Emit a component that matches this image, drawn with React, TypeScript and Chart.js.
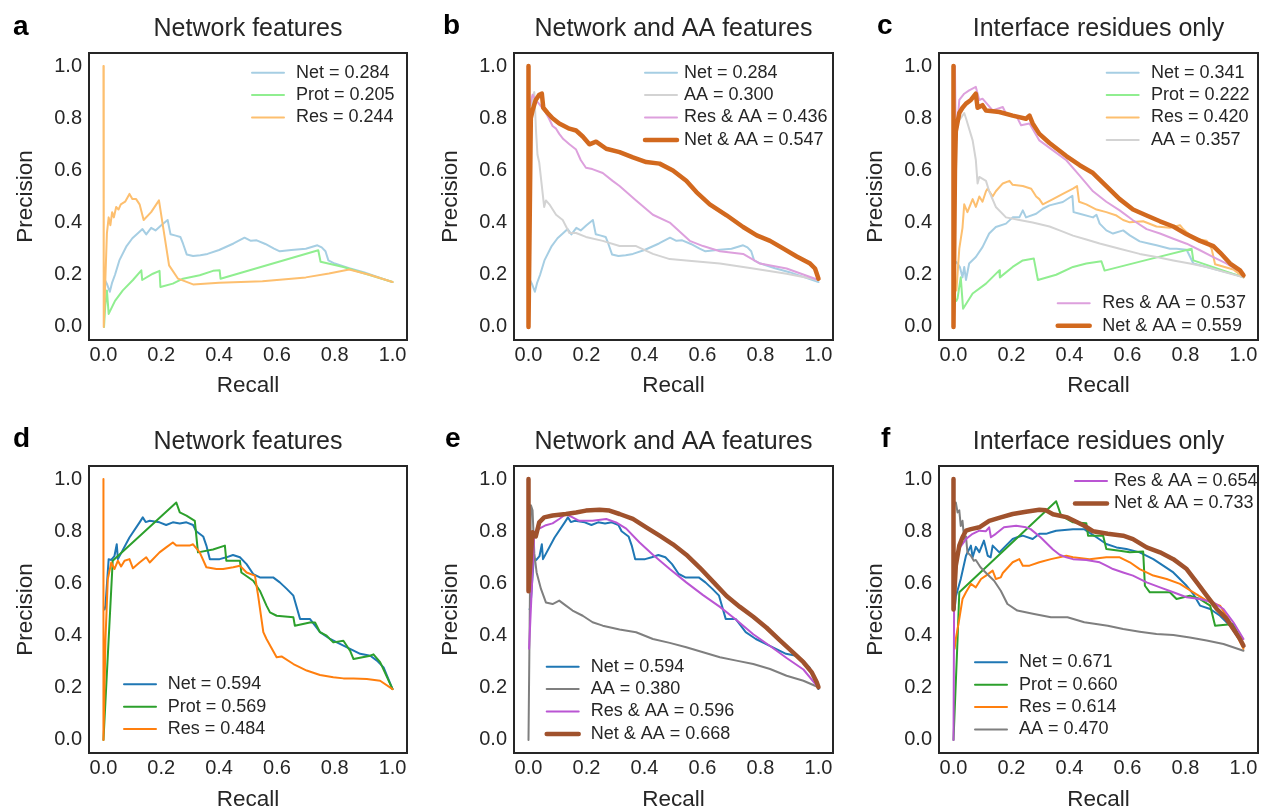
import React, { useEffect, useRef } from 'react';
import { Chart, registerables } from 'chart.js';
Chart.register(...registerables);

const FONT = "'Liberation Sans', Arial, Helvetica, sans-serif";
const TEXT = '#262626';

// ---------- axes ----------
const tickValues = [0, 0.2, 0.4, 0.6, 0.8, 1.0];
const axisMin = -0.05;
const axisMax = 1.05;

// ---------- data (recall, precision) ----------
const netLight = [[0.005,0.18],[0.012,0.165],[0.022,0.135],[0.03,0.17],[0.04,0.2],[0.055,0.255],[0.08,0.31],[0.1,0.34],[0.12,0.36],[0.135,0.375],[0.148,0.355],[0.165,0.38],[0.18,0.37],[0.2,0.39],[0.222,0.41],[0.232,0.355],[0.25,0.35],[0.266,0.345],[0.275,0.32],[0.288,0.278],[0.31,0.272],[0.335,0.275],[0.36,0.28],[0.4,0.295],[0.45,0.32],[0.488,0.342],[0.51,0.33],[0.53,0.332],[0.56,0.318],[0.59,0.3],[0.61,0.29],[0.65,0.295],[0.7,0.3],[0.74,0.313],[0.755,0.305],[0.768,0.29],[0.778,0.255],[0.8,0.243],[0.85,0.225],[0.9,0.21],[1.0,0.172]];
const aProt = [[0.002,0.0],[0.006,0.08],[0.012,0.14],[0.018,0.05],[0.04,0.1],[0.067,0.14],[0.102,0.18],[0.131,0.217],[0.134,0.18],[0.171,0.204],[0.194,0.215],[0.197,0.153],[0.24,0.166],[0.275,0.185],[0.333,0.198],[0.379,0.215],[0.402,0.217],[0.405,0.185],[0.743,0.294],[0.751,0.25],[0.83,0.23],[1.0,0.172]];
const aRes = [[0,1.0],[0.001,0.0],[0.012,0.36],[0.018,0.42],[0.024,0.39],[0.03,0.44],[0.036,0.42],[0.044,0.46],[0.052,0.45],[0.06,0.47],[0.075,0.48],[0.09,0.51],[0.1,0.49],[0.113,0.49],[0.125,0.47],[0.139,0.41],[0.165,0.44],[0.192,0.485],[0.227,0.236],[0.258,0.185],[0.31,0.163],[0.4,0.169],[0.55,0.175],[0.7,0.19],[0.78,0.205],[0.85,0.22],[0.92,0.2],[1.0,0.172]];

const bAA = [[0.005,0.8],[0.015,0.88],[0.02,0.9],[0.026,0.75],[0.031,0.66],[0.037,0.63],[0.045,0.55],[0.054,0.46],[0.06,0.485],[0.072,0.47],[0.095,0.43],[0.118,0.41],[0.141,0.36],[0.164,0.36],[0.198,0.345],[0.256,0.33],[0.314,0.31],[0.371,0.31],[0.429,0.28],[0.487,0.26],[0.544,0.255],[0.66,0.243],[0.775,0.224],[0.89,0.204],[1.0,0.18]];
const bResAA = [[0.005,0.85],[0.014,0.89],[0.025,0.87],[0.04,0.85],[0.06,0.82],[0.07,0.8],[0.083,0.77],[0.095,0.76],[0.106,0.74],[0.12,0.72],[0.141,0.7],[0.164,0.68],[0.18,0.64],[0.198,0.61],[0.22,0.605],[0.256,0.59],[0.29,0.56],[0.314,0.54],[0.371,0.485],[0.429,0.43],[0.487,0.4],[0.556,0.33],[0.602,0.31],[0.66,0.29],[0.74,0.28],[0.798,0.243],[0.89,0.224],[1.0,0.18]];
const bNetAA = [[0,1.0],[0,0.0],[0.008,0.8],[0.014,0.83],[0.025,0.87],[0.037,0.89],[0.046,0.894],[0.051,0.84],[0.066,0.82],[0.083,0.8],[0.106,0.78],[0.141,0.76],[0.164,0.753],[0.187,0.73],[0.21,0.7],[0.233,0.71],[0.268,0.683],[0.314,0.67],[0.36,0.65],[0.406,0.632],[0.452,0.626],[0.498,0.6],[0.544,0.56],[0.579,0.517],[0.625,0.47],[0.683,0.428],[0.74,0.383],[0.787,0.351],[0.833,0.33],[0.879,0.3],[0.925,0.27],[0.971,0.243],[0.988,0.224],[1.0,0.185]];

const cNet = [[0.008,0.25],[0.014,0.243],[0.022,0.23],[0.031,0.19],[0.037,0.23],[0.043,0.18],[0.054,0.243],[0.077,0.268],[0.1,0.306],[0.123,0.358],[0.146,0.383],[0.181,0.396],[0.204,0.42],[0.227,0.42],[0.239,0.447],[0.25,0.42],[0.285,0.434],[0.308,0.453],[0.331,0.466],[0.377,0.479],[0.41,0.503],[0.414,0.44],[0.435,0.434],[0.481,0.42],[0.493,0.43],[0.504,0.396],[0.527,0.37],[0.55,0.358],[0.585,0.37],[0.608,0.351],[0.642,0.328],[0.677,0.319],[0.7,0.313],[0.746,0.3],[0.769,0.3],[0.804,0.296],[0.827,0.243],[0.873,0.23],[1.0,0.192]];
const cProt = [[0.01,0.1],[0.014,0.11],[0.025,0.19],[0.033,0.07],[0.066,0.128],[0.112,0.166],[0.158,0.217],[0.16,0.19],[0.204,0.23],[0.239,0.255],[0.277,0.262],[0.291,0.18],[0.354,0.2],[0.412,0.23],[0.458,0.243],[0.51,0.252],[0.521,0.216],[0.677,0.26],[0.821,0.3],[0.827,0.255],[1.0,0.19]];
const cRes = [[0.01,0.14],[0.02,0.3],[0.031,0.38],[0.037,0.47],[0.048,0.44],[0.066,0.49],[0.077,0.46],[0.089,0.5],[0.1,0.48],[0.112,0.52],[0.118,0.53],[0.135,0.5],[0.146,0.52],[0.17,0.55],[0.193,0.56],[0.204,0.545],[0.239,0.54],[0.268,0.53],[0.285,0.5],[0.296,0.49],[0.308,0.47],[0.343,0.49],[0.377,0.51],[0.412,0.53],[0.426,0.54],[0.433,0.48],[0.458,0.47],[0.493,0.45],[0.527,0.44],[0.562,0.427],[0.585,0.41],[0.608,0.401],[0.654,0.405],[0.7,0.385],[0.746,0.38],[0.781,0.39],[0.792,0.375],[0.827,0.34],[0.873,0.33],[0.89,0.3],[0.902,0.24],[0.965,0.22],[1.0,0.19]];
const cAA = [[0.01,0.78],[0.025,0.8],[0.037,0.82],[0.043,0.8],[0.066,0.715],[0.077,0.64],[0.083,0.55],[0.089,0.575],[0.112,0.56],[0.123,0.52],[0.146,0.46],[0.181,0.42],[0.227,0.41],[0.273,0.4],[0.331,0.385],[0.366,0.37],[0.412,0.35],[0.458,0.335],[0.504,0.32],[0.573,0.3],[0.642,0.28],[0.7,0.268],[0.758,0.255],[0.815,0.243],[0.873,0.23],[1.0,0.19]];
const cResAA = [[0.005,1.0],[0.008,0.7],[0.02,0.87],[0.037,0.894],[0.054,0.907],[0.077,0.92],[0.089,0.87],[0.1,0.875],[0.135,0.83],[0.17,0.843],[0.181,0.817],[0.216,0.81],[0.233,0.773],[0.262,0.78],[0.296,0.715],[0.343,0.677],[0.389,0.639],[0.435,0.58],[0.481,0.52],[0.527,0.48],[0.573,0.447],[0.619,0.409],[0.666,0.375],[0.712,0.358],[0.758,0.338],[0.804,0.319],[0.85,0.294],[0.896,0.268],[0.942,0.243],[1.0,0.204]];
const cNetAA = [[0,1.0],[0,0.0],[0.005,0.6],[0.008,0.75],[0.02,0.82],[0.031,0.84],[0.043,0.856],[0.06,0.87],[0.077,0.894],[0.083,0.84],[0.1,0.85],[0.112,0.83],[0.158,0.824],[0.204,0.81],[0.25,0.798],[0.262,0.81],[0.273,0.78],[0.296,0.74],[0.331,0.705],[0.389,0.655],[0.435,0.62],[0.481,0.59],[0.527,0.54],[0.573,0.49],[0.619,0.45],[0.666,0.427],[0.712,0.405],[0.758,0.385],[0.804,0.355],[0.85,0.33],[0.896,0.31],[0.919,0.285],[0.954,0.243],[0.988,0.217],[1.0,0.198]];

const netDark = [[0.004,0.5],[0.007,0.515],[0.018,0.693],[0.027,0.69],[0.038,0.705],[0.046,0.75],[0.05,0.693],[0.09,0.776],[0.125,0.834],[0.136,0.853],[0.146,0.835],[0.16,0.84],[0.194,0.834],[0.217,0.824],[0.24,0.834],[0.264,0.83],[0.287,0.834],[0.31,0.824],[0.321,0.8],[0.345,0.78],[0.356,0.745],[0.368,0.693],[0.402,0.693],[0.425,0.7],[0.448,0.709],[0.472,0.7],[0.495,0.674],[0.518,0.636],[0.541,0.623],[0.587,0.623],[0.61,0.604],[0.634,0.579],[0.657,0.553],[0.68,0.464],[0.714,0.464],[0.732,0.438],[0.749,0.413],[0.784,0.387],[0.818,0.368],[0.853,0.349],[0.888,0.33],[0.923,0.323],[0.946,0.304],[0.969,0.278],[1.0,0.195]];
const dProt = [[0.0,0.0],[0.032,0.687],[0.252,0.91],[0.264,0.872],[0.287,0.86],[0.316,0.84],[0.327,0.719],[0.379,0.73],[0.42,0.745],[0.425,0.687],[0.472,0.687],[0.477,0.642],[0.518,0.61],[0.541,0.572],[0.564,0.515],[0.576,0.489],[0.599,0.476],[0.657,0.47],[0.662,0.438],[0.714,0.45],[0.732,0.45],[0.749,0.413],[0.772,0.4],[0.795,0.374],[0.83,0.38],[0.853,0.342],[0.865,0.31],[0.923,0.323],[0.934,0.328],[0.957,0.298],[1.0,0.195]];
const dRes = [[0,1.0],[0,0.0],[0.007,0.387],[0.015,0.617],[0.027,0.68],[0.038,0.655],[0.05,0.687],[0.061,0.665],[0.073,0.687],[0.09,0.693],[0.102,0.658],[0.125,0.68],[0.148,0.7],[0.16,0.68],[0.194,0.719],[0.217,0.738],[0.24,0.757],[0.252,0.745],[0.298,0.745],[0.31,0.75],[0.333,0.719],[0.356,0.662],[0.391,0.655],[0.414,0.655],[0.449,0.662],[0.472,0.668],[0.495,0.642],[0.524,0.63],[0.535,0.553],[0.553,0.413],[0.564,0.387],[0.599,0.317],[0.616,0.32],[0.657,0.291],[0.703,0.266],[0.749,0.249],[0.795,0.24],[0.83,0.236],[0.865,0.236],[0.911,0.234],[0.957,0.227],[1.0,0.195]];

const eAA = [[0.0,0.0],[0.008,0.9],[0.014,0.88],[0.02,0.715],[0.028,0.642],[0.043,0.579],[0.06,0.527],[0.083,0.521],[0.106,0.534],[0.129,0.515],[0.152,0.496],[0.187,0.476],[0.221,0.451],[0.256,0.438],[0.314,0.423],[0.371,0.413],[0.429,0.387],[0.487,0.372],[0.544,0.355],[0.602,0.336],[0.66,0.317],[0.717,0.304],[0.775,0.291],[0.833,0.272],[0.89,0.246],[0.948,0.227],[1.0,0.202]];
const eResAA = [[0.002,0.35],[0.02,0.796],[0.037,0.81],[0.06,0.823],[0.083,0.83],[0.106,0.847],[0.129,0.866],[0.152,0.853],[0.175,0.84],[0.221,0.84],[0.268,0.847],[0.302,0.834],[0.337,0.81],[0.383,0.757],[0.429,0.71],[0.487,0.655],[0.544,0.604],[0.602,0.555],[0.66,0.51],[0.717,0.46],[0.775,0.405],[0.833,0.36],[0.89,0.314],[0.948,0.27],[1.0,0.2]];
const eNetAA = [[0,1.0],[0,0.57],[0.008,0.7],[0.014,0.796],[0.025,0.78],[0.037,0.834],[0.054,0.853],[0.083,0.86],[0.129,0.866],[0.164,0.872],[0.198,0.879],[0.245,0.882],[0.279,0.879],[0.314,0.866],[0.36,0.847],[0.406,0.815],[0.452,0.783],[0.498,0.75],[0.544,0.71],[0.591,0.66],[0.637,0.606],[0.683,0.552],[0.729,0.51],[0.775,0.472],[0.821,0.43],[0.867,0.382],[0.913,0.335],[0.948,0.298],[0.977,0.259],[0.994,0.221],[1.0,0.202]];

const fNet = [[0.004,0.5],[0.008,0.55],[0.025,0.617],[0.043,0.706],[0.06,0.745],[0.066,0.7],[0.077,0.74],[0.089,0.72],[0.105,0.764],[0.118,0.706],[0.128,0.7],[0.135,0.745],[0.158,0.719],[0.181,0.745],[0.204,0.77],[0.22,0.777],[0.239,0.783],[0.273,0.77],[0.296,0.79],[0.319,0.79],[0.336,0.796],[0.354,0.802],[0.412,0.808],[0.451,0.808],[0.458,0.802],[0.493,0.777],[0.527,0.751],[0.562,0.738],[0.596,0.732],[0.642,0.719],[0.689,0.693],[0.723,0.668],[0.758,0.642],[0.804,0.591],[0.827,0.559],[0.85,0.515],[0.885,0.502],[0.919,0.476],[0.954,0.438],[1.0,0.361]];
const fProt = [[0.0,0.0],[0.014,0.387],[0.02,0.566],[0.354,0.915],[0.371,0.86],[0.412,0.834],[0.458,0.831],[0.464,0.783],[0.516,0.783],[0.527,0.732],[0.573,0.725],[0.608,0.719],[0.654,0.722],[0.66,0.591],[0.677,0.566],[0.746,0.566],[0.769,0.54],[0.815,0.553],[0.85,0.54],[0.885,0.515],[0.902,0.438],[0.965,0.444],[1.0,0.361]];
const fRes = [[0.004,0.35],[0.008,0.387],[0.02,0.464],[0.031,0.54],[0.043,0.566],[0.06,0.598],[0.077,0.585],[0.095,0.617],[0.112,0.63],[0.135,0.649],[0.146,0.617],[0.163,0.623],[0.17,0.64],[0.204,0.681],[0.227,0.693],[0.239,0.668],[0.262,0.668],[0.296,0.681],[0.336,0.693],[0.389,0.706],[0.412,0.7],[0.469,0.693],[0.527,0.7],[0.573,0.7],[0.608,0.681],[0.642,0.655],[0.689,0.63],[0.735,0.617],[0.781,0.598],[0.827,0.566],[0.873,0.534],[0.919,0.515],[0.954,0.451],[1.0,0.349]];
const fAA = [[0.004,0.91],[0.008,0.91],[0.014,0.872],[0.02,0.88],[0.025,0.82],[0.031,0.84],[0.037,0.77],[0.043,0.78],[0.048,0.719],[0.06,0.706],[0.07,0.687],[0.077,0.69],[0.093,0.662],[0.116,0.636],[0.14,0.61],[0.163,0.572],[0.186,0.521],[0.22,0.496],[0.278,0.483],[0.336,0.47],[0.393,0.47],[0.451,0.451],[0.532,0.438],[0.585,0.425],[0.642,0.415],[0.7,0.406],[0.758,0.402],[0.815,0.393],[0.873,0.381],[0.931,0.368],[1.0,0.342]];
const fResAA = [[0.0,0.0],[0.002,0.5],[0.008,0.706],[0.02,0.734],[0.043,0.77],[0.066,0.79],[0.089,0.802],[0.112,0.8],[0.123,0.815],[0.129,0.777],[0.146,0.79],[0.174,0.815],[0.216,0.821],[0.25,0.815],[0.266,0.808],[0.301,0.776],[0.343,0.73],[0.366,0.71],[0.389,0.7],[0.412,0.693],[0.458,0.69],[0.504,0.681],[0.527,0.668],[0.55,0.655],[0.585,0.642],[0.619,0.63],[0.666,0.604],[0.712,0.585],[0.758,0.566],[0.804,0.547],[0.85,0.54],[0.896,0.527],[0.931,0.502],[0.965,0.451],[1.0,0.387]];
const fNetAA = [[0,1.0],[0,0.5],[0.008,0.668],[0.02,0.745],[0.031,0.777],[0.043,0.802],[0.06,0.808],[0.089,0.815],[0.123,0.84],[0.163,0.853],[0.204,0.866],[0.25,0.875],[0.296,0.882],[0.319,0.88],[0.343,0.865],[0.393,0.853],[0.451,0.821],[0.481,0.8],[0.532,0.79],[0.585,0.783],[0.619,0.77],[0.666,0.738],[0.712,0.719],[0.758,0.693],[0.804,0.655],[0.839,0.604],[0.873,0.553],[0.908,0.502],[0.942,0.464],[0.965,0.425],[0.988,0.387],[1.0,0.361]];

// ---------- labels ----------
const panelTitles = ['Network features', 'Network and AA features', 'Interface residues only', 'Network features', 'Network and AA features', 'Interface residues only'];
const panelLetters = ['a', 'b', 'c', 'd', 'e', 'f'];
const aLabels = ['Net = 0.284', 'Prot = 0.205', 'Res = 0.244'];
const bLabels = ['Net = 0.284', 'AA = 0.300', 'Res & AA = 0.436', 'Net & AA = 0.547'];
const cLabels = ['Net = 0.341', 'Prot = 0.222', 'Res = 0.420', 'AA = 0.357', 'Res & AA = 0.537', 'Net & AA = 0.559'];
const dLabels = ['Net = 0.594', 'Prot = 0.569', 'Res = 0.484'];
const eLabels = ['Net = 0.594', 'AA = 0.380', 'Res & AA = 0.596', 'Net & AA = 0.668'];
const fLabels = ['Net = 0.671', 'Prot = 0.660', 'Res = 0.614', 'AA = 0.470', 'Res & AA = 0.654', 'Net & AA = 0.733'];

// ---------- styles ----------
const LIGHT = { net: '#a6cee3', prot: '#90ee90', res: '#fdbf6f', aa: '#d3d3d3', resaa: '#dda0dd', netaa: '#d2691e' };
const DARK = { net: '#1f77b4', prot: '#2ca02c', res: '#ff7f0e', aa: '#7f7f7f', resaa: '#ba55d3', netaa: '#a0522d' };
const THIN = 2;
const THICK = 4.5;

type Series = { data: number[][]; color: string; width: number };
type LegendGroup = { hx: number; tx: number; y0: number; items: number[] };
type Panel = { idx: number; col: number; row: number; labels: string[]; series: Series[]; legends: LegendGroup[]; letterPos: number[] };

const panels: Panel[] = [
  { idx: 0, col: 0, row: 0, labels: aLabels, letterPos: [13, 35],
    series: [{ data: netLight, color: LIGHT.net, width: THIN }, { data: aProt, color: LIGHT.prot, width: THIN }, { data: aRes, color: LIGHT.res, width: THIN }],
    legends: [{ hx: 163, tx: 207, y0: 19.7, items: [0, 1, 2] }] },
  { idx: 1, col: 1, row: 0, labels: bLabels, letterPos: [443, 34],
    series: [{ data: netLight, color: LIGHT.net, width: THIN }, { data: bAA, color: LIGHT.aa, width: THIN }, { data: bResAA, color: LIGHT.resaa, width: THIN }, { data: bNetAA, color: LIGHT.netaa, width: THICK }],
    legends: [{ hx: 131, tx: 170, y0: 19.7, items: [0, 1, 2, 3] }] },
  { idx: 2, col: 2, row: 0, labels: cLabels, letterPos: [877, 34],
    series: [{ data: cNet, color: LIGHT.net, width: THIN }, { data: cProt, color: LIGHT.prot, width: THIN }, { data: cRes, color: LIGHT.res, width: THIN }, { data: cAA, color: LIGHT.aa, width: THIN }, { data: cResAA, color: LIGHT.resaa, width: THIN }, { data: cNetAA, color: LIGHT.netaa, width: THICK }],
    legends: [{ hx: 167.7, tx: 212, y0: 19.7, items: [0, 1, 2, 3] }, { hx: 118.7, tx: 163.3, y0: 250.3, items: [4, 5] }] },
  { idx: 3, col: 0, row: 1, labels: dLabels, letterPos: [13, 446.5],
    series: [{ data: netDark, color: DARK.net, width: THIN }, { data: dProt, color: DARK.prot, width: THIN }, { data: dRes, color: DARK.res, width: THIN }],
    legends: [{ hx: 35, tx: 78.7, y0: 218.3, items: [0, 1, 2] }] },
  { idx: 4, col: 1, row: 1, labels: eLabels, letterPos: [445, 446.5],
    series: [{ data: netDark, color: DARK.net, width: THIN }, { data: eAA, color: DARK.aa, width: THIN }, { data: eResAA, color: DARK.resaa, width: THIN }, { data: eNetAA, color: DARK.netaa, width: THICK }],
    legends: [{ hx: 32.7, tx: 76.7, y0: 200.7, items: [0, 1, 2, 3] }] },
  { idx: 5, col: 2, row: 1, labels: fLabels, letterPos: [881, 446.5],
    series: [{ data: fNet, color: DARK.net, width: THIN }, { data: fProt, color: DARK.prot, width: THIN }, { data: fRes, color: DARK.res, width: THIN }, { data: fAA, color: DARK.aa, width: THIN }, { data: fResAA, color: DARK.resaa, width: THIN }, { data: fNetAA, color: DARK.netaa, width: THICK }],
    legends: [{ hx: 36, tx: 80, y0: 196.3, items: [0, 1, 2, 3] }, { hx: 136, tx: 175, y0: 15, items: [4, 5] }] },
];

// ---------- layout ----------
const colLeft = [0, 420, 840];
const colWidth = [420, 420, 422];
const yAxisWidth = [89, 94, 99];
const padRight = [13, 7, 4];
const rowTop = [0, 405];
const rowHeight = [400, 405];
const titlePad = [{ top: 14, bottom: 9 }, { top: 22.5, bottom: 8.5 }];
const xAxisHeight = [60, 57];
const xTitlePadBottom = [0.5, -3.5];
const LEG_STEP = 22.4;
const HANDLE_LEN = 32;

const panelDecor = {
  id: 'panelDecor',
  afterDatasetsDraw(chart: any, _args: any, opts: any) {
    const { ctx, chartArea: a } = chart;
    ctx.save();
    for (const g of opts.groups as LegendGroup[]) {
      g.items.forEach((di, k) => {
        const ds = chart.data.datasets[di];
        const y = a.top + g.y0 + k * LEG_STEP;
        ctx.strokeStyle = ds.borderColor;
        ctx.lineWidth = ds.borderWidth;
        ctx.lineCap = 'round';
        ctx.beginPath();
        ctx.moveTo(a.left + g.hx, y);
        ctx.lineTo(a.left + g.hx + HANDLE_LEN, y);
        ctx.stroke();
        ctx.fillStyle = TEXT;
        ctx.font = `18px ${FONT}`;
        ctx.textAlign = 'left';
        ctx.textBaseline = 'middle';
        ctx.fillText(ds.label, a.left + g.tx, y);
      });
    }
    ctx.strokeStyle = TEXT;
    ctx.lineWidth = 2;
    ctx.strokeRect(a.left, a.top, a.right - a.left, a.bottom - a.top);
    ctx.fillStyle = '#000';
    ctx.font = `bold 28px ${FONT}`;
    ctx.textAlign = 'left';
    ctx.textBaseline = 'alphabetic';
    ctx.fillText(opts.letter, opts.lx, opts.ly);
    ctx.restore();
  },
};

function PanelChart({ panel }: { panel: Panel }) {
  const ref = useRef<HTMLCanvasElement>(null);
  const { col, row } = panel;
  const W = colWidth[col];
  const H = rowHeight[row];
  useEffect(() => {
    if (!ref.current) return;
    const n = panel.series.length;
    const chart = new Chart(ref.current, {
      type: 'line',
      data: {
        datasets: panel.series.map((s, i) => ({
          label: panel.labels[i],
          data: s.data.map(([x, y]) => ({ x, y })),
          borderColor: s.color,
          backgroundColor: s.color,
          borderWidth: s.width,
          pointRadius: 0,
          tension: 0,
          fill: false,
          borderCapStyle: 'round',
          borderJoinStyle: 'round',
          order: n - i,
        })),
      },
      options: {
        responsive: false,
        animation: false,
        devicePixelRatio: 1,
        events: [],
        layout: { padding: { left: 0, right: padRight[col], top: 0, bottom: 0 } },
        plugins: {
          legend: { display: false },
          tooltip: { enabled: false },
          title: {
            display: true,
            text: panelTitles[panel.idx],
            fullSize: false,
            color: TEXT,
            font: { family: FONT, size: 25, weight: 'normal', lineHeight: 1.2 },
            padding: titlePad[row],
          },
          panelDecor: {
            groups: panel.legends,
            letter: panelLetters[panel.idx],
            lx: panel.letterPos[0] - colLeft[col],
            ly: panel.letterPos[1] - rowTop[row],
          },
        } as any,
        scales: {
          x: {
            type: 'linear',
            min: axisMin,
            max: axisMax,
            grid: { display: false, drawTicks: false },
            border: { display: false },
            afterBuildTicks: (s: any) => { s.ticks = tickValues.map((v) => ({ value: v })); },
            afterFit: (s: any) => { s.height = xAxisHeight[row]; s.paddingLeft = 0; s.paddingRight = 0; },
            ticks: { color: TEXT, font: { family: FONT, size: 20 }, padding: 3, maxRotation: 0, autoSkip: false, callback: (v: any) => Number(v).toFixed(1) },
            title: { display: true, text: 'Recall', color: TEXT, font: { family: FONT, size: 22.5, lineHeight: 1.2 }, padding: { top: 0, bottom: xTitlePadBottom[row] } },
          },
          y: {
            type: 'linear',
            min: axisMin,
            max: axisMax,
            grid: { display: false, drawTicks: false },
            border: { display: false },
            afterBuildTicks: (s: any) => { s.ticks = tickValues.map((v) => ({ value: v })); },
            afterFit: (s: any) => { s.width = yAxisWidth[col]; s.paddingTop = 0; s.paddingBottom = 0; },
            ticks: { color: TEXT, font: { family: FONT, size: 20 }, padding: 7, autoSkip: false, callback: (v: any) => Number(v).toFixed(1) },
            title: { display: true, text: 'Precision', color: TEXT, font: { family: FONT, size: 22.5, lineHeight: 1.2 }, padding: { top: yAxisWidth[col] - 77, bottom: 0 } },
          },
        },
      } as any,
      plugins: [panelDecor as any],
    });
    return () => chart.destroy();
  }, []);
  return (
    <canvas
      ref={ref}
      width={W}
      height={H}
      style={{ position: 'absolute', left: colLeft[col], top: rowTop[row], width: W, height: H }}
    />
  );
}

export default function App() {
  return (
    <div style={{ position: 'absolute', left: 0, top: 0, width: 1262, height: 810, background: '#fff', overflow: 'hidden' }}>
      {panels.map((p) => <PanelChart key={p.idx} panel={p} />)}
    </div>
  );
}
